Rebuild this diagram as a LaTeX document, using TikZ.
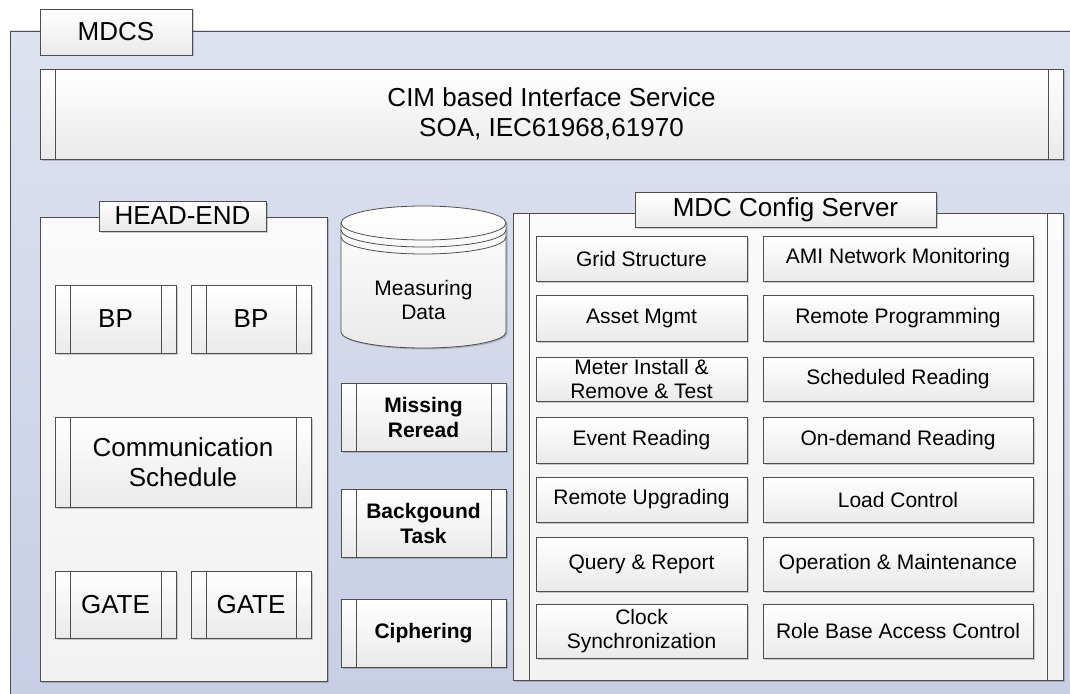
\documentclass[tikz,border=0pt]{standalone}
\usepackage{fontspec}
\setmainfont{Liberation Sans}
\usepackage{xcolor}
\usetikzlibrary{shadows}

\definecolor{linegray}{RGB}{78,78,78}
\definecolor{boxgray}{RGB}{234,234,234}
\definecolor{panelwhite}{RGB}{250,250,250}
\definecolor{panelgray}{RGB}{242,242,242}
\definecolor{frametop}{RGB}{221,226,240}
\definecolor{framebottom}{RGB}{199,206,229}

\tikzset{
  bigtext/.style={font=\fontsize{26}{30}\selectfont},
  smalltext/.style={font=\fontsize{21}{24}\selectfont},
  boldtext/.style={font=\fontsize{21}{25}\selectfont\bfseries},
  softshadow/.style={drop shadow={shadow xshift=1.5pt, shadow yshift=-1.5pt, opacity=0.18, fill=black}},
  box/.style={draw=linegray, line width=0.8pt, top color=white, bottom color=boxgray,
    inner sep=0pt, align=center, softshadow},
  sideline/.style={path picture={
      \draw[linegray, line width=0.8pt]
        ([xshift=#1]path picture bounding box.north west) -- ([xshift=#1]path picture bounding box.south west)
        ([xshift=-#1]path picture bounding box.north east) -- ([xshift=-#1]path picture bounding box.south east);}},
  sideline/.default=15pt,
  predef/.style={box, sideline},
  panel/.style={draw=linegray, line width=0.8pt, top color=panelwhite, bottom color=panelgray,
    inner sep=0pt, softshadow},
  tab/.style={box, bigtext},
  item/.style={box, smalltext},
}

\begin{document}
\begin{tikzpicture}[x=1pt, y=-1pt]
  \useasboundingbox (0,0) rectangle (1070,693);
  \clip (0,0) rectangle (1070,693);

  % MDCS frame
  \fill[top color=frametop, bottom color=framebottom] (10,31) rectangle (1090,710);
  \draw[linegray, line width=0.8pt] (10,710) -- (10,31) -- (1090,31);
  \node[tab, minimum width=152pt, minimum height=46pt] (mdcs) at (116,32) {MDCS};

  % Interface service
  \node[predef, bigtext, minimum width=1023pt, minimum height=90pt] (cim) at (551.5,114)
    {CIM based Interface Service\\SOA, IEC61968,61970};

  % Head-end
  \node[panel, minimum width=287pt, minimum height=464pt] (headend) at (183.5,449) {};
  \node[tab, minimum width=167pt, minimum height=30pt] (headendtab) at (182.5,216) {HEAD-END};
  \node[predef, bigtext, minimum width=121pt, minimum height=68pt] (bpa) at (115.5,319) {BP};
  \node[predef, bigtext, minimum width=120pt, minimum height=68pt] (bpb) at (251,319) {BP};
  \node[predef, bigtext, minimum width=256pt, minimum height=90pt] (comm) at (183,462)
    {Communication\\Schedule};
  \node[predef, bigtext, minimum width=121pt, minimum height=67pt] (gatea) at (115.5,604.5) {GATE};
  \node[predef, bigtext, minimum width=120pt, minimum height=67pt] (gateb) at (251,604.5) {GATE};

  % Measuring data store
  \path[draw=linegray, line width=0.8pt, top color=white, bottom color=boxgray, softshadow]
    (341,223) -- (341,332) arc[start angle=180, end angle=360, x radius=82.5pt, y radius=16pt]
    -- (506,223) arc[start angle=0, end angle=180, x radius=82.5pt, y radius=17pt] -- cycle;
  \foreach \d in {0,7,14}
    \draw[linegray, line width=0.8pt] (341,{223+\d}) arc[start angle=180, end angle=360, x radius=82.5pt, y radius=17pt];
  \node[smalltext, align=center] (meas) at (423.5,300) {Measuring\\Data};

  % Middle tasks
  \node[predef, boldtext, minimum width=165pt, minimum height=68pt] (missing) at (423.5,417) {Missing\\Reread};
  \node[predef, boldtext, minimum width=165pt, minimum height=68pt] (backtask) at (423.5,523) {Backgound\\Task};
  \node[predef, boldtext, minimum width=165pt, minimum height=68pt] (cipher) at (423.5,633) {Ciphering};

  % MDC config server
  \node[panel, sideline=16pt, minimum width=550pt, minimum height=467pt] (config) at (788,446.5) {};
  \node[tab, minimum width=301pt, minimum height=35pt] (configtab) at (785.5,209.5) {MDC Config Server};
  \foreach \n/\y/\h/\lt/\rt in {
      1/258.5/45/{Grid Structure}/{AMI Network Monitoring},
      2/318/46/{Asset Mgmt}/{Remote Programming},
      3/379/44/{Meter Install \&\\Remove \& Test}/{Scheduled Reading},
      4/440/46/{Event Reading}/{On-demand Reading},
      5/499.5/45/{Remote Upgrading}/{Load Control},
      6/564/54/{Query \& Report}/{Operation \& Maintenance},
      7/631/54/{Clock\\Synchronization}/{Role Base Access Control}} {
    \node[item, minimum width=211pt, minimum height=\h pt] (left\n) at (641.5,\y) {\lt};
    \node[item, minimum width=270pt, minimum height=\h pt] (right\n) at (898,\y) {\rt};
  }
\end{tikzpicture}
\end{document}
